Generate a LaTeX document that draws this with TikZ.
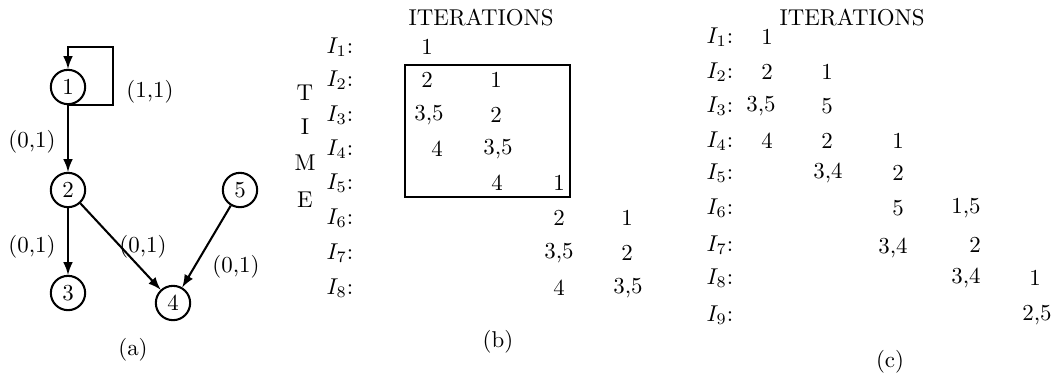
\documentclass[tikz,border=0pt]{standalone}
\usetikzlibrary{arrows}
\begin{document}
\begin{tikzpicture}[x=0.437pt,y=-0.437pt,
  vertex/.style={circle,draw,line width=0.9pt,minimum size=15pt,inner sep=0pt},
  link/.style={->, >=latex, line width=0.9pt}]
\useasboundingbox (0,0) rectangle (1054,382);

% (a) the graph
\node[vertex] (V1) at (68,87) {1};
\node[vertex] (V2) at (68,190) {2};
\node[vertex] (V3) at (68,293) {3};
\node[vertex] (V4) at (173,303) {4};
\node[vertex] (V5) at (240,190) {5};

\coordinate (L1) at (113,47);

\draw[link] (V1.south) -| (L1) -| (V1.north);
\path[link] (V1) edge [] node[]{} (V2);
\path[link] (V2) edge [] node[]{} (V3);
\path[link] (V2) edge [] node[]{} (V4);
\path[link] (V5) edge [] node[]{} (V4);

\node (W11) at (150,92) {(1,1)};
\node (W12) at (32,142) {(0,1)};
\node (W23) at (32,247) {(0,1)};
\node (W24) at (143,247) {(0,1)};
\node (W54) at (236,267) {(0,1)};
\node (CA) at (133,350) {(a)};

% (b) schedule with the box
\node (HB) at (481,18) {ITERATIONS};
\node (T1) at (305,93) {T};
\node (T2) at (305,127) {I};
\node (T3) at (305,163) {M};
\node (T4) at (305,200) {E};

\node (B1) at (340,47) {$I_1$:};
\node (B2) at (340,80) {$I_2$:};
\node (B3) at (340,115) {$I_3$:};
\node (B4) at (340,149) {$I_4$:};
\node (B5) at (340,183) {$I_5$:};
\node (B6) at (340,218) {$I_6$:};
\node (B7) at (340,253) {$I_7$:};
\node (B8) at (340,288) {$I_8$:};

\node (B11) at (427,47) {1};
\node (B21) at (427,80) {2};
\node (B22) at (496,80) {1};
\node (B31) at (429,115) {3,5};
\node (B32) at (496,115) {2};
\node (B41) at (437,149) {4};
\node (B42) at (498,149) {3,5};
\node (B52) at (497,183) {4};
\node (B53) at (559,183) {1};
\node (B63) at (559,218) {2};
\node (B64) at (627,218) {1};
\node (B73) at (559,253) {3,5};
\node (B74) at (627,253) {2};
\node (B83) at (559,288) {4};
\node (B84) at (628,288) {3,5};

\draw[line width=0.9pt] (405,65) rectangle (570,197);
\node (CB) at (498,342) {(b)};

% (c) schedule without the box
\node (HC) at (852,18) {ITERATIONS};

\node (C1) at (720,37) {$I_1$:};
\node (C2) at (720,72) {$I_2$:};
\node (C3) at (720,106) {$I_3$:};
\node (C4) at (720,141) {$I_4$:};
\node (C5) at (720,173) {$I_5$:};
\node (C6) at (720,208) {$I_6$:};
\node (C7) at (720,245) {$I_7$:};
\node (C8) at (720,278) {$I_8$:};
\node (C9) at (720,315) {$I_9$:};

\node (C11) at (767,37) {1};
\node (C21) at (767,72) {2};
\node (C22) at (827,72) {1};
\node (C31) at (761,106) {3,5};
\node (C32) at (827,106) {5};
\node (C41) at (767,141) {4};
\node (C42) at (827,141) {2};
\node (C43) at (898,141) {1};
\node (C52) at (828,173) {3,4};
\node (C53) at (898,173) {2};
\node (C63) at (898,208) {5};
\node (C64) at (966,208) {1,5};
\node (C73) at (893,248) {3,4};
\node (C74) at (975,245) {2};
\node (C84) at (966,278) {3,4};
\node (C85) at (1035,278) {1};
\node (C95) at (1037,315) {2,5};
\node (CC) at (890,362) {(c)};
\end{tikzpicture}
\end{document}
